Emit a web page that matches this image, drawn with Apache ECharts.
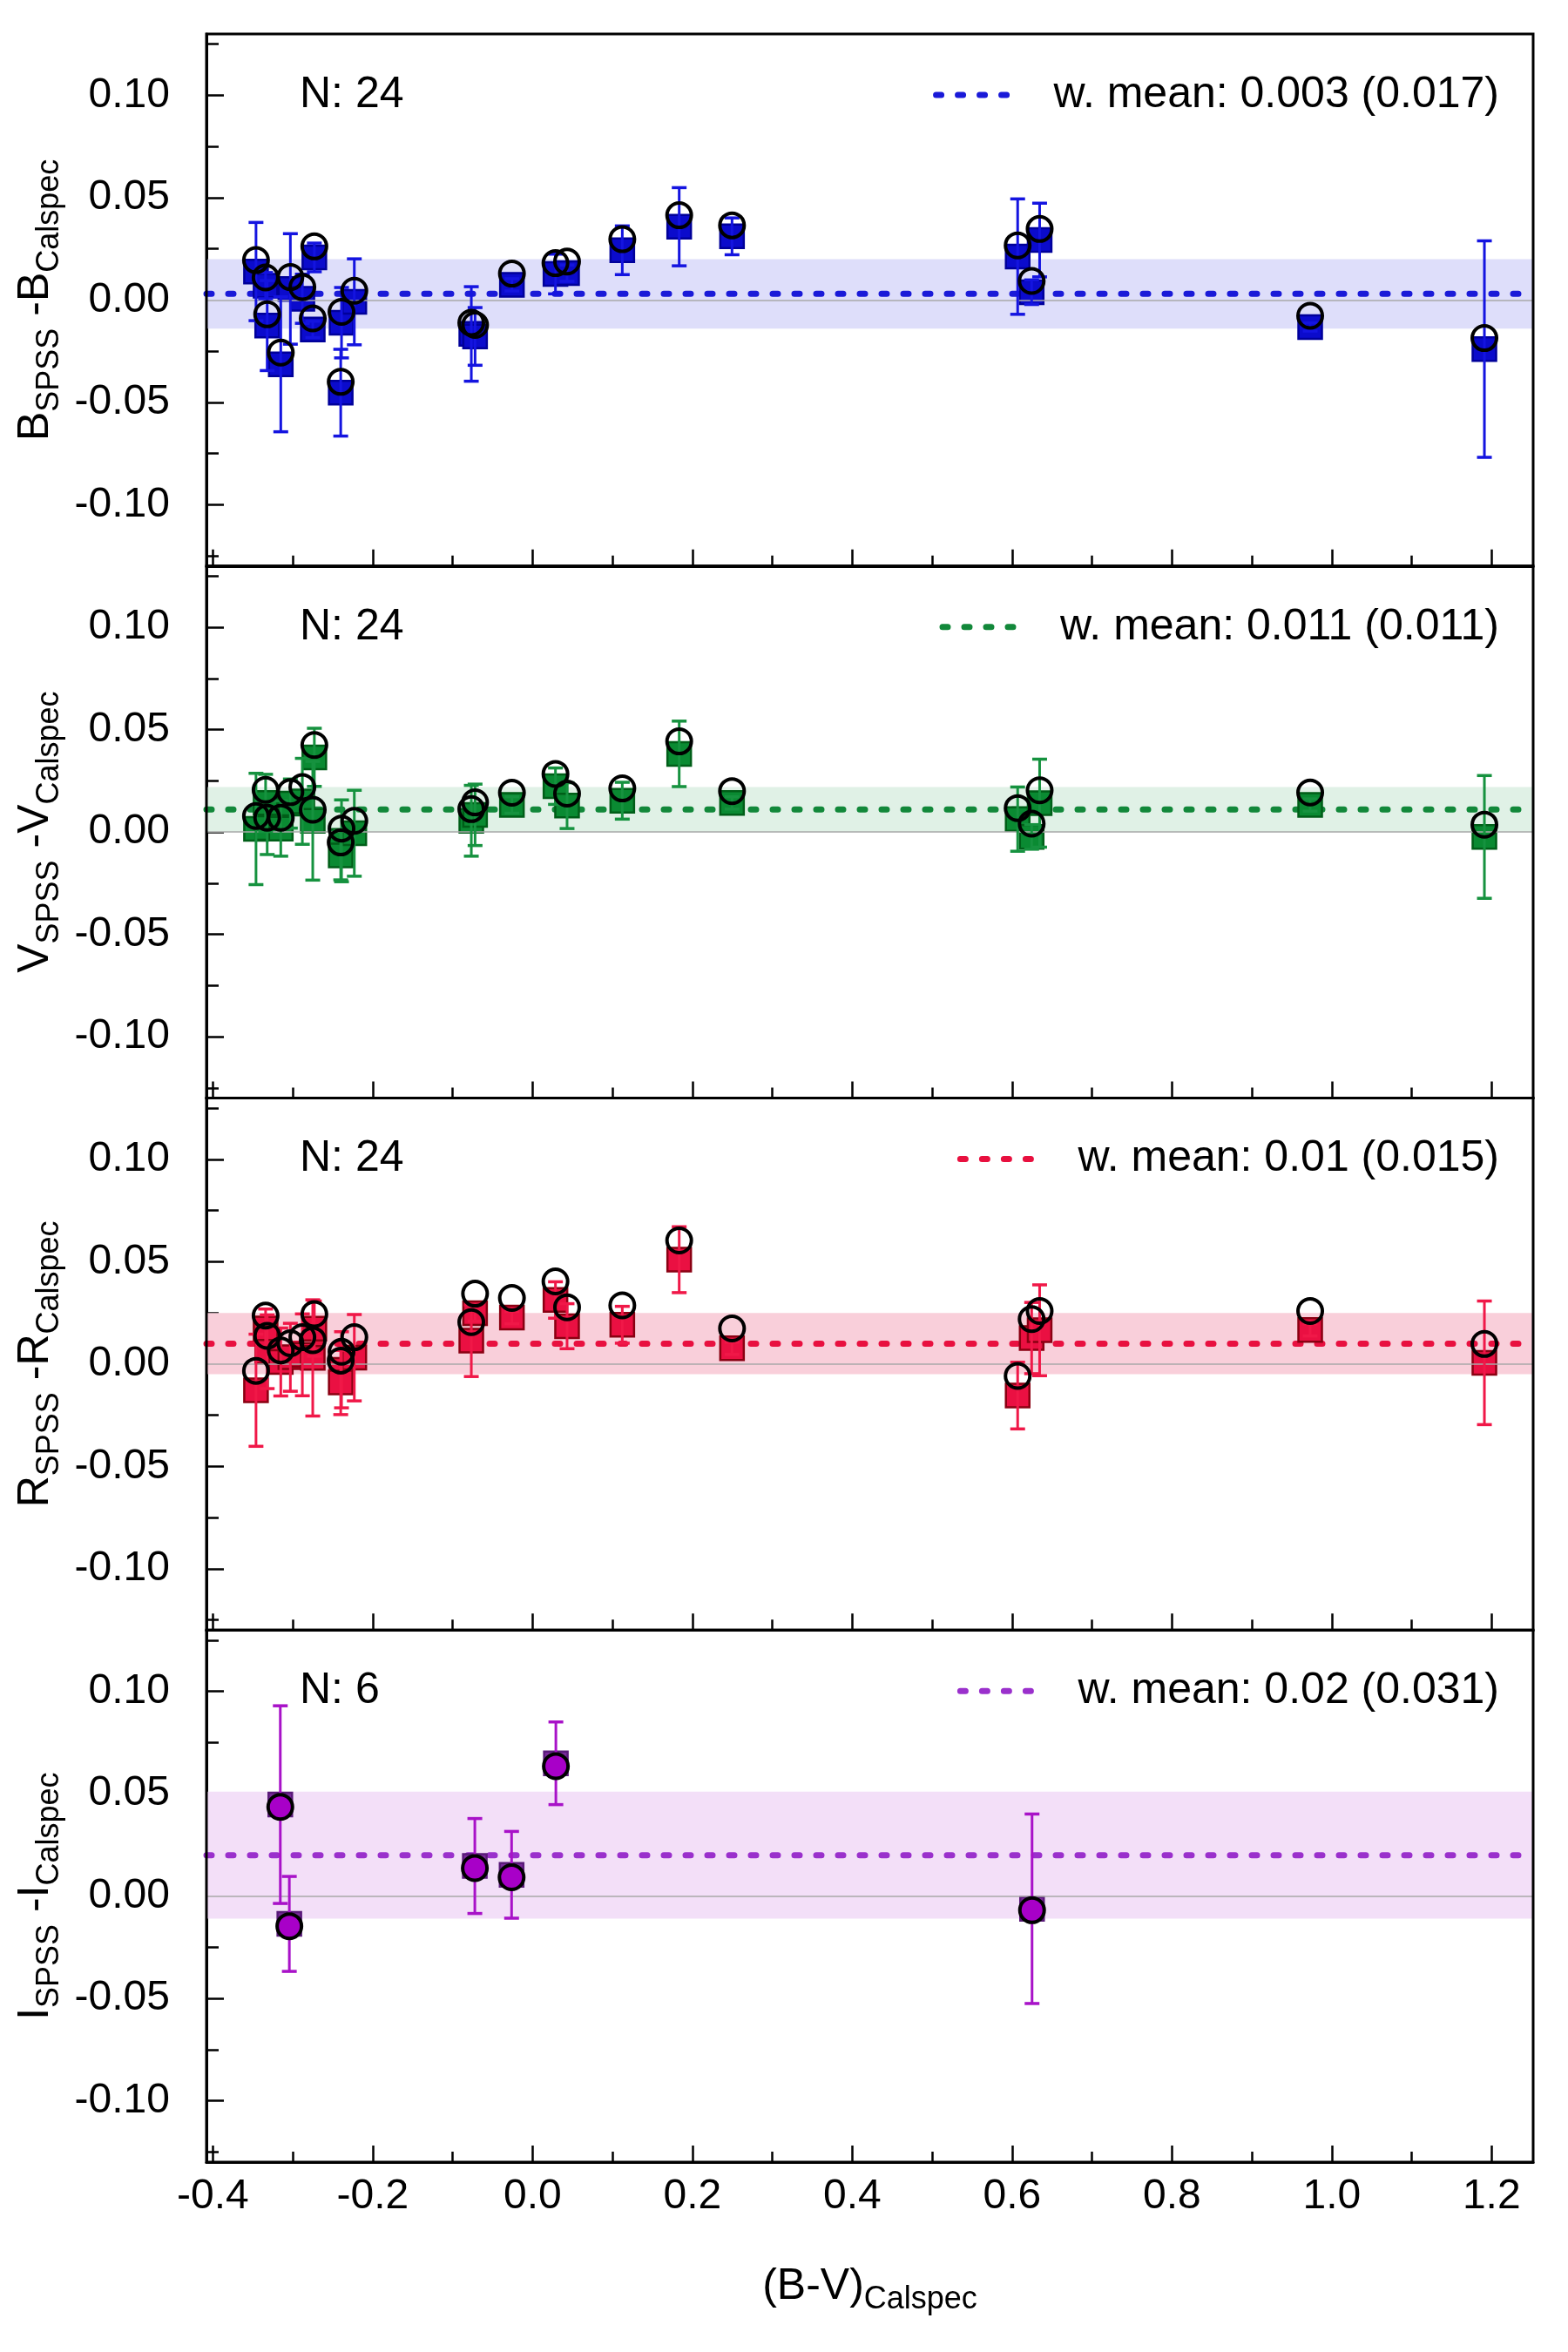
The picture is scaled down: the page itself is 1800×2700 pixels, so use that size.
<!DOCTYPE html>
<html lang="en">
<head>
<meta charset="utf-8">
<title>SPSS - Calspec residuals</title>
<script src="https://cdn.jsdelivr.net/npm/echarts@6/dist/echarts.min.js"></script>
<style>
  html, body { margin: 0; padding: 0; background: #fff; }
  #chart { width: 1800px; height: 2700px; }
</style>
</head>
<body>
<div id="chart"></div>
<script>
// (B-V) colour of the Calspec stars used in the B, V and R panels
var bvStars = [-0.346, -0.334, -0.332, -0.315, -0.303, -0.288, -0.273, -0.275, -0.239, -0.240, -0.223,
               -0.0766, -0.0719, -0.0258, 0.0287, 0.0432, 0.1123, 0.1835, 0.2496,
               0.607, 0.6245, 0.6345, 0.973, 1.191];

// B band: SPSS (squares + error) and second estimate (open circles)
var bSquare = [0.0139, 0.0070, -0.0125, -0.0314, 0.0054, 0.0006, 0.0208, -0.0144, -0.0111, -0.0453, -0.0009,
               -0.0166, -0.0178, 0.0074, 0.0127, 0.0131, 0.0243, 0.0358, 0.0311,
               0.0212, 0.0038, 0.0293, -0.0132, -0.0240];
var bCircle = [0.0195, 0.0110, -0.0070, -0.0257, 0.0112, 0.0063, 0.0262, -0.0090, -0.0058, -0.0400, 0.0045,
               -0.0111, -0.0122, 0.0129, 0.0180, 0.0188, 0.0297, 0.0414, 0.0365,
               0.0267, 0.0093, 0.0347, -0.0077, -0.0186];
var bErr    = [0.0240, 0.0064, 0.0220, 0.0330, 0.0270, 0.0120, 0.0070, 0.0040, 0.0172, 0.0212, 0.0210,
               0.0231, 0.0141, 0.0030, 0.0097, 0.0040, 0.0119, 0.0191, 0.0090,
               0.0282, 0.0060, 0.0180, 0.0020, 0.0529];

// V band
var vSquare = [0.0015, 0.0142, 0.0020, 0.0017, 0.0139, 0.0150, 0.0365, 0.0055, -0.0043, -0.0114, -0.0006,
               0.0055, 0.0084, 0.0132, 0.0224, 0.0129, 0.0153, 0.0382, 0.0142,
               0.0063, -0.0024, 0.0141, 0.0132, -0.0024];
var vCircle = [0.0078, 0.0206, 0.0070, 0.0070, 0.0195, 0.0220, 0.0425, 0.0109, 0.0017, -0.0051, 0.0055,
               0.0112, 0.0145, 0.0192, 0.0284, 0.0188, 0.0213, 0.0443, 0.0200,
               0.0117, 0.0041, 0.0204, 0.0193, 0.0036];
var vErr    = [0.0272, 0.0140, 0.0130, 0.0135, 0.0120, 0.0210, 0.0142, 0.0290, 0.0200, 0.0120, 0.0210,
               0.0173, 0.0150, 0.0040, 0.0089, 0.0112, 0.0090, 0.0160, 0.0030,
               0.0157, 0.0060, 0.0215, 0.0030, 0.0300];

// R band
var rSquare = [-0.0128, 0.0174, 0.0060, 0.0010, 0.0033, 0.0045, 0.0173, 0.0030, -0.0028, -0.0090, 0.0031,
               0.0114, 0.0249, 0.0227, 0.0313, 0.0185, 0.0192, 0.0510, 0.0077,
               -0.0154, 0.0127, 0.0165, 0.0167, 0.0006];
var rCircle = [-0.0033, 0.0237, 0.0138, 0.0067, 0.0102, 0.0131, 0.0244, 0.0117, 0.0060, 0.0017, 0.0131,
               0.0205, 0.0344, 0.0323, 0.0404, 0.0277, 0.0287, 0.0604, 0.0174,
               -0.0058, 0.0220, 0.0259, 0.0259, 0.0098];
var rErr    = [0.0274, 0.0095, 0.0180, 0.0166, 0.0166, 0.0200, 0.0135, 0.0284, 0.0186, 0.0157, 0.0211,
               0.0175, 0.0040, 0.0030, 0.0089, 0.0110, 0.0090, 0.0161, 0.0030,
               0.0163, 0.0174, 0.0222, 0.0030, 0.0302];

// I band (only six stars)
var bvStarsI = [-0.3156, -0.3043, -0.0722, -0.0262, 0.0292, 0.625];
var iSquare  = [0.0447, -0.0136, 0.0147, 0.0104, 0.0649, -0.0062];
var iCircle  = [0.0436, -0.0147, 0.0137, 0.0092, 0.0635, -0.0069];
var iErr     = [0.0483, 0.0232, 0.0232, 0.0212, 0.0202, 0.0463];

// weighted means and their scatter
var bandNames = ['B', 'V', 'R', 'I'];
var wMeans = [0.003, 0.011, 0.01, 0.02];
var wScatter = [0.017, 0.011, 0.015, 0.031];

// axes
var xMajor = [-0.4, -0.2, 0.0, 0.2, 0.4, 0.6, 0.8, 1.0, 1.2];
var xMinor = [-0.3, -0.1, 0.1, 0.3, 0.5, 0.7, 0.9, 1.1];
var yMajor = [-0.10, -0.05, 0.00, 0.05, 0.10];
var yMinor = [-0.125, -0.075, -0.025, 0.025, 0.075, 0.125];
var X_MIN = -0.408, X_MAX = 1.252, Y_MIN = -0.13, Y_MAX = 0.13;

var FONT = 'Liberation Sans, Arial, Helvetica, sans-serif';

// look of each panel
var looks = [
  { fill: '#0b0bcc', edge: '#00009a', bar: '#1414e0', mean: '#1a1ad8', band: '#dedefa', circle: 'rgba(0,0,0,0)' },
  { fill: '#0a8a32', edge: '#005e18', bar: '#16923f', mean: '#12883a', band: '#e0f1e6', circle: 'rgba(0,0,0,0)' },
  { fill: '#ea1042', edge: '#8a0012', bar: '#f01848', mean: '#e8103f', band: '#f9cfda', circle: 'rgba(0,0,0,0)' },
  { fill: '#7b2a9c', edge: '#5a1a7a', bar: '#a812c8', mean: '#9a30cc', band: '#f3dff8', circle: '#a800c8' }
];

var panels = [
  { x: bvStars, sq: bSquare, ci: bCircle, er: bErr },
  { x: bvStars, sq: vSquare, ci: vCircle, er: vErr },
  { x: bvStars, sq: rSquare, ci: rCircle, er: rErr },
  { x: bvStarsI, sq: iSquare, ci: iCircle, er: iErr }
];

var TOP = 39, PH = 610.75, LEFT = 237, WIDTH = 1523;

function errorBars(color) {
  return function (params, api) {
    var x = api.value(0);
    var lo = api.coord([x, api.value(1)]);
    var hi = api.coord([x, api.value(2)]);
    var half = 8.5;
    var capStyle = { stroke: color, lineWidth: 3.5, fill: null };
    return {
      type: 'group',
      children: [
        { type: 'line', shape: { x1: lo[0], y1: lo[1], x2: hi[0], y2: hi[1] }, style: { stroke: color, lineWidth: 3, fill: null } },
        { type: 'line', shape: { x1: lo[0] - half, y1: lo[1], x2: lo[0] + half, y2: lo[1] }, style: capStyle },
        { type: 'line', shape: { x1: hi[0] - half, y1: hi[1], x2: hi[0] + half, y2: hi[1] }, style: capStyle }
      ]
    };
  };
}

var grid = [], xAxis = [], yAxis = [], series = [], legend = [], title = [];

panels.forEach(function (p, i) {
  var top = TOP + i * PH;
  var look = looks[i];
  var L = bandNames[i];
  var meanName = 'w. mean: ' + wMeans[i] + ' (' + wScatter[i] + ')';

  grid.push({ left: LEFT, width: WIDTH, top: top, height: PH, show: true, z: 10,
              borderColor: '#000', borderWidth: 3, backgroundColor: 'rgba(0,0,0,0)' });

  xAxis[i] = {
    gridIndex: i, type: 'value', min: X_MIN, max: X_MAX,
    axisLine: { show: true, onZero: false, lineStyle: { color: '#000', width: 3 } },
    axisTick: { show: true, inside: true, length: 19, customValues: xMajor, lineStyle: { color: '#000', width: 2.5 } },
    axisLabel: { show: i === 3, customValues: xMajor, fontSize: 48, fontFamily: FONT, color: '#000', margin: 16,
                 formatter: function (v) { return v.toFixed(1); } },
    splitLine: { show: false },
    name: i === 3 ? '{m|(B-V)}{s|Calspec}' : '',
    nameLocation: 'middle', nameGap: 118,
    nameTextStyle: { color: '#000', fontFamily: FONT, rich: {
      m: { fontSize: 50, lineHeight: 56, verticalAlign: 'top', fontFamily: FONT, color: '#000' },
      s: { fontSize: 36, lineHeight: 36, verticalAlign: 'top', padding: [22, 0, 0, 0], fontFamily: FONT, color: '#000' }
    } }
  };
  xAxis[4 + i] = {
    gridIndex: i, type: 'value', position: 'bottom', min: X_MIN, max: X_MAX,
    axisLine: { show: false, onZero: false },
    axisTick: { show: true, inside: true, length: 12, customValues: xMinor, lineStyle: { color: '#000', width: 2.5 } },
    axisLabel: { show: false }, splitLine: { show: false }
  };

  yAxis[i] = {
    gridIndex: i, type: 'value', min: Y_MIN, max: Y_MAX,
    axisLine: { show: true, onZero: false, lineStyle: { color: '#000', width: 3 } },
    axisTick: { show: true, inside: true, length: 20, customValues: yMajor, lineStyle: { color: '#000', width: 2.5 } },
    axisLabel: { customValues: yMajor, fontSize: 48, fontFamily: FONT, color: '#000', margin: 42,
                 formatter: function (v) { return v.toFixed(2); } },
    splitLine: { show: false },
    name: '{m|' + L + '}{s|SPSS}{m| -' + L + '}{s|Calspec}',
    nameLocation: 'middle', nameGap: 164, nameRotate: 90,
    nameTextStyle: { color: '#000', fontFamily: FONT, rich: {
      m: { fontSize: 50, lineHeight: 56, verticalAlign: 'top', fontFamily: FONT, color: '#000' },
      s: { fontSize: 36, lineHeight: 36, verticalAlign: 'top', padding: [22, 0, 0, 0], fontFamily: FONT, color: '#000' }
    } }
  };
  yAxis[4 + i] = {
    gridIndex: i, type: 'value', position: 'left', min: Y_MIN, max: Y_MAX,
    axisLine: { show: false, onZero: false },
    axisTick: { show: true, inside: true, length: 14, customValues: yMinor, lineStyle: { color: '#000', width: 2.5 } },
    axisLabel: { show: false }, splitLine: { show: false }
  };

  // scatter band around the weighted mean
  series.push({
    type: 'line', xAxisIndex: i, yAxisIndex: i, data: [], z: 1, silent: true,
    markArea: { silent: true, itemStyle: { color: look.band },
                data: [[{ yAxis: wMeans[i] - wScatter[i] }, { yAxis: wMeans[i] + wScatter[i] }]] }
  });
  // zero reference
  series.push({
    type: 'line', xAxisIndex: i, yAxisIndex: i, data: [], z: 2, silent: true,
    markLine: { silent: true, symbol: ['none', 'none'], label: { show: false },
                lineStyle: { color: '#a8a8a8', width: 1.5, type: 'solid' }, data: [{ yAxis: 0 }] }
  });
  // weighted mean
  series.push({
    name: meanName, type: 'line', xAxisIndex: i, yAxisIndex: i, z: 3, silent: true,
    data: [[X_MIN, wMeans[i]], [X_MAX, wMeans[i]]], symbol: 'none',
    itemStyle: { color: look.mean },
    lineStyle: { color: look.mean, width: 7, type: [6, 19], cap: 'round' }
  });
  // SPSS squares
  series.push({
    type: 'scatter', xAxisIndex: i, yAxisIndex: i, z: 4, silent: true,
    symbol: 'rect', symbolSize: 27,
    itemStyle: { color: look.fill, borderColor: look.edge, borderWidth: 2.5, opacity: 1 },
    data: p.x.map(function (x, k) { return [x, p.sq[k]]; })
  });
  // error bars
  series.push({
    type: 'custom', xAxisIndex: i, yAxisIndex: i, z: 5, silent: true,
    renderItem: errorBars(look.bar), encode: { x: 0, y: [1, 2] },
    data: p.x.map(function (x, k) { return [x, p.sq[k] - p.er[k], p.sq[k] + p.er[k]]; })
  });
  // circles
  series.push({
    type: 'scatter', xAxisIndex: i, yAxisIndex: i, z: 6, silent: true,
    symbol: 'circle', symbolSize: 28,
    itemStyle: { color: look.circle, borderColor: '#000', borderWidth: 4, opacity: 1 },
    data: p.x.map(function (x, k) { return [x, p.ci[k]]; })
  });

  legend.push({
    data: [meanName], right: 79, top: top + 70 - 28, padding: 0, selectedMode: false,
    itemWidth: 86, itemHeight: 14,
    lineStyle: { width: 7 },
    itemStyle: { color: 'rgba(0,0,0,0)', borderColor: 'rgba(0,0,0,0)', borderWidth: 0, opacity: 0 },
    textStyle: { fontSize: 50, lineHeight: 56, fontFamily: FONT, color: '#000', padding: [0, 0, 0, 44] }
  });
  title.push({
    text: 'N: ' + p.x.length, left: 344, top: top + 70 - 28, padding: 0,
    textStyle: { fontSize: 50, lineHeight: 56, fontWeight: 'normal', fontFamily: FONT, color: '#000' }
  });
});

var chart = echarts.init(document.getElementById('chart'), null, { renderer: 'canvas' });
chart.setOption({
  animation: false,
  backgroundColor: '#fff',
  title: title,
  legend: legend,
  grid: grid,
  xAxis: xAxis,
  yAxis: yAxis,
  series: series
});
</script>
</body>
</html>
